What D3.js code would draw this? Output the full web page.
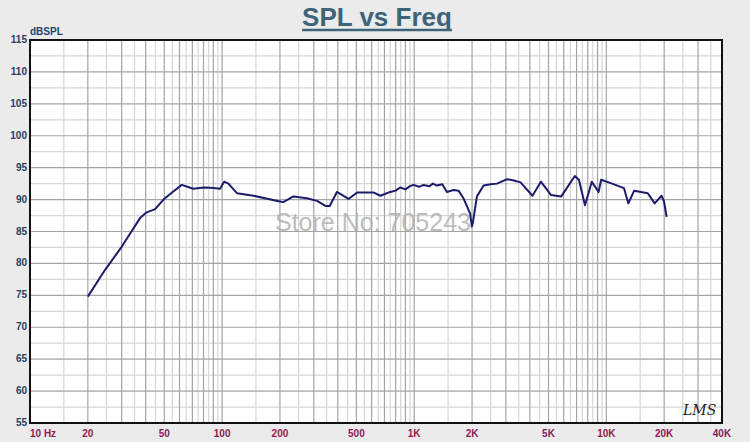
<!DOCTYPE html>
<html>
<head>
<meta charset="utf-8">
<script src="https://cdn.jsdelivr.net/npm/d3@7"></script>
<style>
  body { margin: 0; background: #ebebeb; }
  svg { display: block; }
</style>
</head>
<body>
<div id="chart"></div>
<script>
var width = 750
var height = 442

// measured response (Hz, dBSPL)
var freqs = [20, 24.6, 30, 37.4, 40.5, 44.8, 49.5, 55.9, 61.6, 66, 70.8, 76, 81.4, 90, 97.6, 102.5, 107.8, 119.5, 145.7, 200, 208, 235, 276, 312, 345, 363, 396, 455, 504, 560, 616, 667, 750, 800, 845, 900, 950, 992, 1060, 1118, 1200, 1250, 1312, 1400, 1479, 1600, 1700, 1805, 1955, 1995, 2018, 2120, 2297, 2500, 2698, 3045, 3300, 3576, 4126, 4563, 5158, 5824, 6856, 7200, 7745, 8400, 9110, 9400, 10710, 12350, 13020, 13960, 16430, 17850, 19380, 19960, 20600]
var spl = [74.8, 79.0, 82.6, 87.1, 88.0, 88.5, 90.0, 91.3, 92.3, 92.0, 91.7, 91.8, 91.9, 91.8, 91.7, 92.8, 92.5, 91.0, 90.6, 89.7, 89.6, 90.5, 90.2, 89.8, 89.0, 89.0, 91.2, 90.1, 91.1, 91.1, 91.1, 90.6, 91.2, 91.4, 91.9, 91.6, 92.1, 92.3, 92.0, 92.3, 92.1, 92.5, 92.2, 92.4, 91.2, 91.5, 91.4, 90.2, 87.8, 85.8, 86.3, 90.5, 92.2, 92.4, 92.5, 93.2, 93.0, 92.7, 90.6, 92.8, 90.7, 90.5, 93.7, 93.1, 89.1, 92.8, 91.2, 93.1, 92.5, 91.8, 89.4, 91.4, 91.0, 89.4, 90.6, 89.7, 87.3]

var yTicks = [55, 60, 65, 70, 75, 80, 85, 90, 95, 100, 105, 110, 115]
var xTicks = [10, 20, 50, 100, 200, 500, 1000, 2000, 5000, 10000, 20000, 40000]
var xTickLabels = ['10 Hz', '20', '50', '100', '200', '500', '1K', '2K', '5K', '10K', '20K', '40K']

var margin = { left: 30, right: 28, top: 40, bottom: 19 }

var svg = d3.select('#chart')
            .append('svg')
            .attr('width', width)
            .attr('height', height)
            .style('font-family', 'Liberation Sans, Arial, sans-serif');

var x = d3.scaleLog()
          .domain([10, 40000])
          .range([margin.left, width - margin.right]);

var y = d3.scaleLinear()
          .domain([55, 115])
          .range([height - margin.bottom, margin.top]);

// plot background
svg.append('rect')
   .attr('x', x(10))
   .attr('y', y(115))
   .attr('width', x(40000) - x(10))
   .attr('height', y(55) - y(115))
   .style('fill', 'white');

////////////// grid //////////////
var majorX = [], minorX = []
for (var dec = 10; dec < 40000; dec *= 10) {
    for (var m = 1; m <= 9; m++) {
        if (m > 1 && dec * m <= 40000) majorX.push(dec * m);
        if (dec * (m + 0.5) < 40000) minorX.push(dec * (m + 0.5));
    }
}
majorX.push(100, 1000, 10000);

var minorY = d3.range(57.5, 115, 5);

svg.selectAll('line.minorx')
   .data(minorX).enter().append('line')
   .attr('x1', function(d){ return x(d); })
   .attr('x2', function(d){ return x(d); })
   .attr('y1', y(115)).attr('y2', y(55))
   .style('stroke', '#d6d6d6').style('stroke-width', 1.2);

svg.selectAll('line.minory')
   .data(minorY).enter().append('line')
   .attr('y1', function(d){ return y(d); })
   .attr('y2', function(d){ return y(d); })
   .attr('x1', x(10)).attr('x2', x(40000))
   .style('stroke', '#d6d6d6').style('stroke-width', 1.2);

svg.selectAll('line.majorx')
   .data(majorX).enter().append('line')
   .attr('x1', function(d){ return x(d); })
   .attr('x2', function(d){ return x(d); })
   .attr('y1', y(115)).attr('y2', y(55))
   .style('stroke', '#a4a4a4').style('stroke-width', 1.2);

svg.selectAll('line.majory')
   .data(yTicks).enter().append('line')
   .attr('y1', function(d){ return y(d); })
   .attr('y2', function(d){ return y(d); })
   .attr('x1', x(10)).attr('x2', x(40000))
   .style('stroke', '#a4a4a4').style('stroke-width', 1.2);

// frame
svg.append('rect')
   .attr('x', x(10))
   .attr('y', y(115))
   .attr('width', x(40000) - x(10))
   .attr('height', y(55) - y(115))
   .style('fill', 'none')
   .style('stroke', '#111')
   .style('stroke-width', 2);

////////////// watermark //////////////
svg.append('text')
   .attr('x', 275)
   .attr('y', 231)
   .style('font-size', '25px')
   .style('fill', '#b0b0b0')
   .style('fill-opacity', 0.85)
   .text('Store No: 705243');

////////////// curve //////////////
var data = freqs.map(function(f, i){ return { f: f, v: spl[i] }; });

var line = d3.line()
             .x(function(d){ return x(d.f); })
             .y(function(d){ return y(d.v); });

svg.append('path')
   .datum(data)
   .attr('d', line)
   .style('fill', 'none')
   .style('stroke', '#1c1c6a')
   .style('stroke-width', 2)
   .style('stroke-linejoin', 'round');

////////////// axes labels //////////////
svg.selectAll('text.ylab')
   .data(yTicks).enter().append('text')
   .attr('class', 'ylab')
   .attr('x', 27)
   .attr('y', function(d){ return y(d) + 3; })
   .attr('text-anchor', 'end')
   .style('font-size', '10px')
   .style('font-weight', 'bold')
   .style('fill', '#23406b')
   .text(function(d){ return d; });

svg.append('text')
   .attr('x', 30)
   .attr('y', 35)
   .style('font-size', '10px')
   .style('font-weight', 'bold')
   .style('fill', '#23406b')
   .text('dBSPL');

svg.selectAll('text.xlab')
   .data(xTicks).enter().append('text')
   .attr('class', 'xlab')
   .attr('x', function(d){ return x(d); })
   .attr('y', 437)
   .attr('text-anchor', function(d, i){ return i == 0 ? 'start' : 'middle'; })
   .style('font-size', '10px')
   .style('font-weight', 'bold')
   .style('fill', '#8c1a50')
   .text(function(d, i){ return xTickLabels[i]; });

////////////// title //////////////
var title = svg.append('text')
   .attr('x', 377)
   .attr('y', 26)
   .attr('text-anchor', 'middle')
   .style('font-size', '26px')
   .style('font-weight', 'bold')
   .style('fill', '#3d6479')
   .text('SPL vs Freq');

var tw = title.node().getComputedTextLength();
svg.append('line')
   .attr('x1', 377 - tw / 2)
   .attr('x2', 377 + tw / 2)
   .attr('y1', 30).attr('y2', 30)
   .style('stroke', '#3d6479')
   .style('stroke-width', 2.4);

// logo
svg.append('text')
   .attr('x', 683)
   .attr('y', 415)
   .style('font-family', 'DejaVu Serif, serif')
   .style('font-style', 'italic')
   .style('font-size', '14px')
   .style('fill', '#222')
   .text('LMS');
</script>
</body>
</html>
